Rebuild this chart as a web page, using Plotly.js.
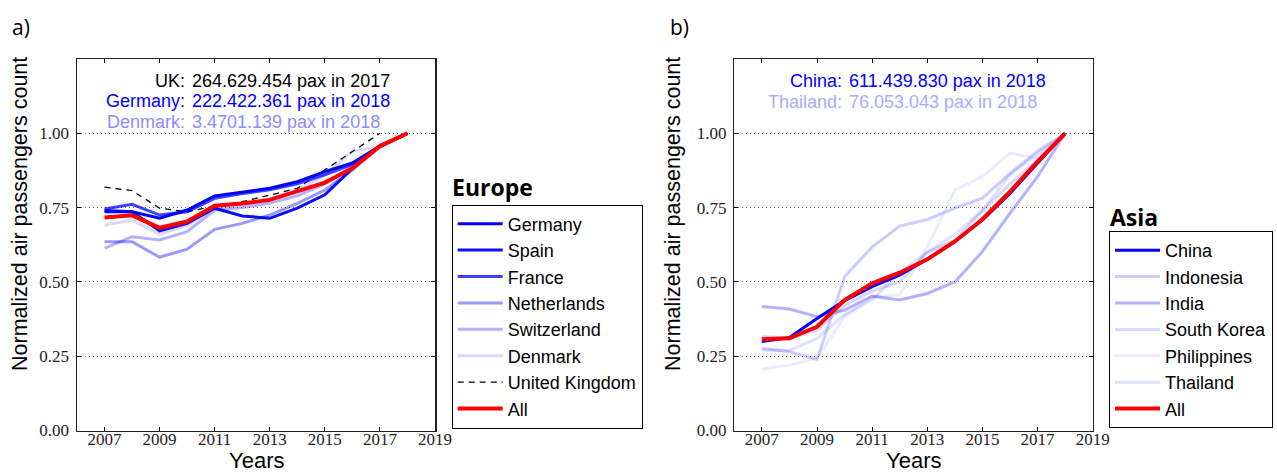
<!DOCTYPE html>
<html><head><meta charset="utf-8">
<script src="https://cdn.plot.ly/plotly-3.0.1.min.js"></script>
<style>html,body{margin:0;padding:0;background:#fff}#chart{width:1277px;height:474px}</style>
</head><body><div id="chart"></div>
<script>
// ---- data ----
const years = [2007,2008,2009,2010,2011,2012,2013,2014,2015,2016,2017,2018];
const ukYears = [2007,2008,2009,2010,2011,2012,2013,2014,2015,2016,2017];

// Europe (normalized to last year)
const germany     = [0.740,0.736,0.714,0.742,0.789,0.803,0.815,0.837,0.871,0.900,0.957,1.000];
const spain       = [0.736,0.736,0.672,0.697,0.748,0.722,0.714,0.748,0.793,0.882,0.957,1.000];
const france      = [0.745,0.761,0.725,0.736,0.781,0.797,0.810,0.830,0.860,0.895,0.955,1.000];
const netherlands = [0.635,0.635,0.583,0.610,0.677,0.697,0.725,0.764,0.809,0.876,0.957,1.000];
const switzerland = [0.613,0.652,0.641,0.669,0.742,0.750,0.765,0.790,0.830,0.890,0.955,1.000];
const denmark     = [0.691,0.708,0.660,0.690,0.750,0.760,0.780,0.810,0.860,0.940,0.955,1.000];
const uk          = [0.819,0.807,0.748,0.736,0.755,0.770,0.792,0.815,0.877,0.938,1.000];
const europeAll   = [0.717,0.724,0.682,0.703,0.756,0.764,0.776,0.804,0.834,0.882,0.957,1.000];

// Asia
const china       = [0.299,0.313,0.377,0.437,0.484,0.523,0.576,0.636,0.708,0.798,0.899,1.000];
const indonesia   = [0.277,0.265,0.239,0.517,0.618,0.688,0.710,0.748,0.782,0.865,0.940,1.000];
const india       = [0.417,0.409,0.383,0.405,0.452,0.439,0.461,0.500,0.602,0.731,0.854,1.000];
const southKorea  = [0.316,0.310,0.338,0.420,0.470,0.500,0.600,0.640,0.740,0.830,0.910,1.000];
const philippines = [0.206,0.220,0.243,0.383,0.450,0.456,0.618,0.809,0.854,0.933,0.916,1.000];
const thailand    = [0.270,0.270,0.310,0.390,0.440,0.530,0.600,0.660,0.740,0.860,0.930,1.000];
const asiaAll     = [0.307,0.310,0.349,0.439,0.495,0.531,0.576,0.636,0.711,0.804,0.905,1.000];

const xTicks = [2007,2009,2011,2013,2015,2017,2019];
const yTicks = [0,0.25,0.5,0.75,1.0];
const yTickText = ['0.00','0.25','0.50','0.75','1.00'];

// ---- traces ----
function ln(name, x, y, color, width, rank, xa, ya, leg, dash){
  return {type:'scatter', mode:'lines', name:name, x:x, y:y,
    line:{color:color, width:width, dash:dash||'solid'},
    xaxis:xa, yaxis:ya, legend:leg, legendrank:rank, hoverinfo:'skip'};
}
const traces = [
  ln('Denmark', years, denmark, 'rgba(0,0,255,0.15)', 3, 6, 'x','y','legend'),
  ln('Switzerland', years, switzerland, 'rgba(0,0,255,0.3)', 3, 5, 'x','y','legend'),
  ln('Netherlands', years, netherlands, 'rgba(0,0,255,0.4)', 3, 4, 'x','y','legend'),
  ln('United Kingdom', ukYears, uk, '#000000', 1.3, 7, 'x','y','legend','6px,5px'),
  ln('France', years, france, 'rgba(0,0,255,0.75)', 3, 3, 'x','y','legend'),
  ln('Spain', years, spain, 'rgba(0,0,255,0.95)', 3, 2, 'x','y','legend'),
  ln('Germany', years, germany, '#0000ff', 3, 1, 'x','y','legend'),
  ln('All', years, europeAll, '#ff0000', 4, 8, 'x','y','legend'),

  ln('Philippines', years, philippines, 'rgba(0,0,255,0.08)', 3, 5, 'x2','y2','legend2'),
  ln('Thailand', years, thailand, 'rgba(0,0,255,0.12)', 3, 6, 'x2','y2','legend2'),
  ln('South Korea', years, southKorea, 'rgba(0,0,255,0.16)', 3, 4, 'x2','y2','legend2'),
  ln('Indonesia', years, indonesia, 'rgba(0,0,255,0.2)', 3, 2, 'x2','y2','legend2'),
  ln('India', years, india, 'rgba(0,0,255,0.3)', 3, 3, 'x2','y2','legend2'),
  ln('China', years, china, '#0000ff', 3, 1, 'x2','y2','legend2'),
  ln('All', years, asiaAll, '#ff0000', 4, 7, 'x2','y2','legend2')
];

// ---- layout ----
const W = 1277, H = 474;
const px = v => v / W, py = v => 1 - v / H;
const tickFont = {family:'Liberation Serif, DejaVu Serif, serif', size:17, color:'#222'};
function xAx(dom, anchor){
  return {domain:dom, anchor:anchor, range:[2006,2019], tickvals:xTicks, ticks:'inside', ticklen:4,
    tickcolor:'#000', showline:true, linecolor:'#222', linewidth:1.5, mirror:'ticks',
    showgrid:false, zeroline:false, tickfont:tickFont, ticklabelstandoff:-7, fixedrange:true};
}
function yAx(anchor){
  return {domain:[py(430.5), py(59)], anchor:anchor, range:[0,1.25], tickvals:yTicks, ticktext:yTickText,
    ticks:'inside', ticklen:4, tickcolor:'#000', showline:true, linecolor:'#222', linewidth:1.5,
    mirror:'ticks', showgrid:true, gridcolor:'#666', griddash:'1px,3px', gridwidth:1, zeroline:false,
    tickfont:tickFont, ticklabelstandoff:3, fixedrange:true};
}
const sans = 'Liberation Sans, Arial, sans-serif';
function ann(text, x, y, xanchor, color, size, extra){
  return Object.assign({text:text, xref:'paper', yref:'paper', x:px(x), y:py(y), xanchor:xanchor,
    yanchor:'middle', showarrow:false, font:{family:sans, size:size, color:color}}, extra||{});
}
const legFont = {family:sans, size:18, color:'#000'};
const layout = {
  width:W, height:H, paper_bgcolor:'#fff', plot_bgcolor:'#fff',
  margin:{l:0, r:0, t:0, b:0, autoexpand:false},
  xaxis: xAx([px(77), px(435)], 'y'),
  yaxis: yAx('x'),
  xaxis2: xAx([px(734.3), px(1092.7)], 'y2'),
  yaxis2: yAx('x2'),
  showlegend:true,
  legend:{x:px(451.7), y:py(204.5), xanchor:'left', yanchor:'top', bordercolor:'#000', borderwidth:1,
    bgcolor:'#fff', font:legFont, tracegroupgap:0, itemwidth:45},
  legend2:{x:px(1109), y:py(231), xanchor:'left', yanchor:'top', bordercolor:'#000', borderwidth:1,
    bgcolor:'#fff', font:legFont, tracegroupgap:0, itemwidth:45},
  annotations:[
    ann('a)', 10, 27, 'left', '#000', 21, {font:{family:'Open Sans, sans-serif', size:21, color:'#000'}}),
    ann('b)', 668, 27, 'left', '#000', 21, {font:{family:'Open Sans, sans-serif', size:21, color:'#000'}}),
    ann('Normalized air passengers count', 20, 214, 'center', '#000', 21.5, {textangle:-90}),
    ann('Normalized air passengers count', 673, 214, 'center', '#000', 21.5, {textangle:-90}),
    ann('Years', 256, 474, 'center', '#000', 22, {yanchor:'bottom', y:0, yshift:0, borderpad:0}),
    ann('Years', 913, 474, 'center', '#000', 22, {yanchor:'bottom', y:0, yshift:0, borderpad:0}),
    ann('<b>Europe</b>', 450, 187, 'left', '#000', 23, {font:{family:'Open Sans, sans-serif', size:23, color:'#000'}}),
    ann('<b>Asia</b>', 1108, 217, 'left', '#000', 23, {font:{family:'Open Sans, sans-serif', size:23, color:'#000'}}),
    ann('UK:', 187, 81, 'right', '#000', 18),
    ann('264.629.454 pax in 2017', 190, 81, 'left', '#000', 18),
    ann('Germany:', 187, 101, 'right', '#0000ff', 18),
    ann('222.422.361 pax in 2018', 190, 101, 'left', '#0000ff', 18),
    ann('Denmark:', 187, 122, 'right', '#8c8cff', 18),
    ann('3.4701.139 pax in 2018', 190, 122, 'left', '#8c8cff', 18),
    ann('China:', 843.5, 81, 'right', '#0000ff', 18),
    ann('611.439.830 pax in 2018', 846.5, 81, 'left', '#0000ff', 18),
    ann('Thailand:', 843.5, 102, 'right', '#aaaaff', 18),
    ann('76.053.043 pax in 2018', 846.5, 102, 'left', '#aaaaff', 18)
  ]
};
Plotly.newPlot('chart', traces, layout, {staticPlot:true, displayModeBar:false});
</script></body></html>
